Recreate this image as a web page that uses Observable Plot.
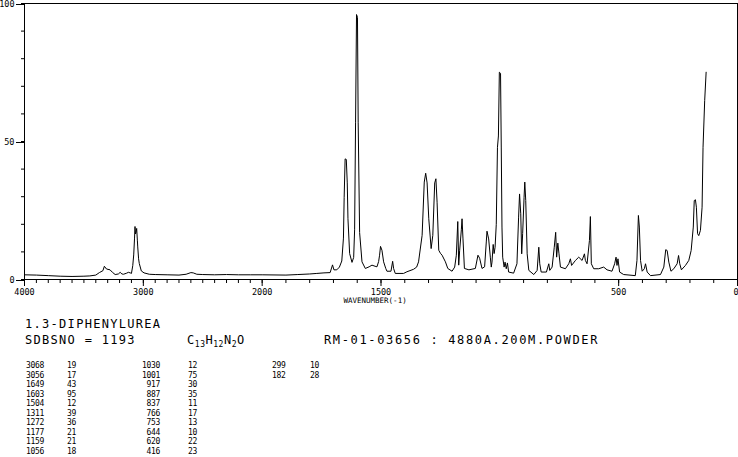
<!DOCTYPE html>
<html><head><meta charset="utf-8">
<script src="https://cdn.jsdelivr.net/npm/d3@7"></script>
<script src="https://cdn.jsdelivr.net/npm/@observablehq/plot@0.6"></script>
<style>
html,body{margin:0;padding:0;background:#fff}
body{width:738px;height:457px;overflow:hidden;position:relative;font-family:"DejaVu Sans Mono",monospace;color:#000}
#chart{position:absolute;left:0;top:0}
.t{position:absolute;white-space:pre;font-size:12px;line-height:12px;letter-spacing:1.3px}
.tbl{position:absolute;font-size:8px;line-height:9.5px;letter-spacing:-0.3px;white-space:pre}
.r{text-align:right}
sub{font-size:8px;vertical-align:-3px;letter-spacing:0.5px}
</style></head><body>
<div id="chart"></div>
<div id="info"></div>
<script>
// Spectrum trace (wavenumber, cm-1) and relative intensity
const wavenumber = [4000,3900,3800,3700,3600,3500,3450,3400,3370,3340,3328,3310,3280,3260,3237,3210,3195,3180,3167,3140,3126,3110,3100,3089,3081,3074,3070,3066,3062,3056,3050,3047,3040,3034,3017,2994,2950,2900,2800,2700,2640,2600,2580,2550,2500,2400,2300,2200,2100,2000,1900,1850,1800,1770,1740,1714,1704,1698,1686,1675,1665,1658,1655,1651,1646,1642,1639,1632,1622,1615,1611,1607,1603,1599,1596,1590,1580,1566,1550,1538,1525,1517,1510,1506,1502,1496,1489,1480,1475,1458,1451,1447,1440,1405,1391,1363,1350,1342,1327,1318,1312,1306,1299,1289,1282,1274,1269,1264,1257,1250,1243,1229,1219,1201,1190,1183,1177,1173,1169,1162,1159,1155,1149,1130,1103,1092,1085,1075,1064,1057,1054,1047,1040,1036,1033,1028,1024,1020,1015,1010,1006,1002,997,994,991,988,982,978,973,968,963,942,928,921,917,912,908,904,898,895,891,885,878,857,843,836,832,826,804,794,790,780,771,765,761,756,751,745,724,710,703,698,682,668,654,644,640,633,623,619,615,605,584,563,549,528,517,511,507,503,496,479,430,423,417,413,408,401,392,387,380,366,324,310,302,296,289,280,268,254,248,243,236,219,205,195,186,182,177,173,168,163,156,149,145,138,132];
const intensity = [1.7,1.6,1.4,1.2,1.1,1.2,1.3,1.6,2.5,3.2,4.8,3.8,3.5,2.6,1.8,2.0,2.6,2.0,1.9,2.3,2.6,2.4,2.2,5.0,8.9,15,19.2,16.5,17,18.5,14,11.8,7.5,5.8,3.1,2.4,1.9,1.8,1.7,1.6,1.9,2.5,2.4,1.9,1.8,1.7,1.8,1.7,1.7,1.7,1.6,1.8,2.0,2.2,2.4,2.5,5.3,3.5,3.5,4.5,6.7,15,29.8,43.7,43.5,35,22,9.4,6.2,8,18,57,96,95,57,17,6.4,4.0,4.6,5.2,4.8,4.6,6.5,8.8,12.0,10.6,6.4,4.0,3.0,3.0,6.6,4.0,2.2,2.2,2.8,3.7,4.5,6.4,16,35.3,38.5,35,22,11.2,16,35,36.5,28,10.6,9.5,8.8,6.4,4.0,3.0,4.5,8.8,21,5.2,10.6,18,22,14.7,4.0,3.5,4.0,8.8,7.7,4.0,4.6,13.6,17.5,14.7,8.1,4.5,6.3,12.7,9.4,11.7,20,47.9,52,75.1,74.7,48,19,8.1,4.5,6.3,3.9,6.0,2.7,2.3,5.7,22.6,31,23.8,9.3,16.6,29.8,35.3,28.6,9.3,3.3,1.8,3.3,11.7,5.7,2.7,2.7,5.7,3.3,4.5,11.7,17.1,8.1,13.2,9.3,4.5,3.9,5.7,7.5,5.1,6.9,8.1,6.9,9.3,6.9,5.7,14.1,22.8,5.7,3.9,3.9,4.5,3.5,3.0,5.7,8.1,5.1,7.5,2.7,1.8,1.4,6.9,23.2,19,6.9,3.0,3.9,5.7,2.7,1.4,1.8,4.5,10.8,10.5,6.3,3.0,3.9,5.7,8.7,5.7,3.5,5.1,6.9,10.5,19,28.6,28.9,26.2,16.6,15.9,17.8,26.2,47.9,64.9,75.1];

// Axis ticks
const xLabeledTicks = [4000,3000,2000,1500,500,0];
const xMinorTicks = d3.range(0,4001,100);
const yLabeledTicks = [0,50,100];
const yMinorTicks = d3.range(0,101,10);
const xTitle = "WAVENUMBER(-1)";

// Header texts
const compoundName = "1.3-DIPHENYLUREA";
const sdbsNo = "SDBSNO = 1193";
const formulaParts = [["C","13"],["H","12"],["N","2"],["O",""]];
const measurement = "RM-01-03656 : 4880A.200M.POWDER";

// Peak table
const peakWavenumbers = ["3068","3056","1649","1603","1504","1311","1272","1177","1159","1056","1030","1001","917","887","837","766","753","644","620","416","299","182"];
const peakIntensities = ["19","17","43","95","12","39","36","21","21","18","12","75","30","35","11","17","13","10","22","23","10","28"];

const data = wavenumber.map((w, i) => ({w, v: intensity[i]}));

// The x axis is compressed by half above 2000 cm-1 (as in the original plot)
const compress = w => (w > 2000 ? 2000 + (w - 2000) / 2 : w);
const frameH = 279 - 3;

const chart = Plot.plot({
  width: 738,
  height: 305,
  marginLeft: 24, marginRight: 1, marginTop: 3, marginBottom: 26,
  style: {fontFamily: "DejaVu Sans Mono, monospace", fontSize: "8.5px", background: "white", color: "black", overflow: "visible"},
  x: {transform: compress, domain: [3000, 0], range: [24, 737], axis: null},
  y: {domain: [0, 100], range: [279, 3]},
  marks: [
    Plot.frame({stroke: "black"}),
    // x ticks every 100 below the frame, longer at labelled values
    Plot.ruleX(xMinorTicks, {x: d => d, insetTop: frameH, insetBottom: -4, stroke: "black"}),
    Plot.ruleX(xLabeledTicks, {x: d => d, insetTop: frameH, insetBottom: -7, stroke: "black"}),
    Plot.text(xLabeledTicks.filter(d => d !== 0), {x: d => d, text: d => String(d), frameAnchor: "bottom", lineAnchor: "top", dy: 9, fontSize: 8.5, fill: "black"}),
    Plot.text(xLabeledTicks.filter(d => d === 0), {x: d => d, text: d => String(d), frameAnchor: "bottom", lineAnchor: "top", textAnchor: "end", dx: 1, dy: 9, fontSize: 8.5, fill: "black"}),
    Plot.axisY({ticks: yMinorTicks, tickSize: 3, tickFormat: () => "", label: null}),
    Plot.axisY({ticks: yLabeledTicks, tickSize: 8, tickPadding: 2, tickFormat: d => String(d), label: null, dy: 1}),
    Plot.text([xTitle], {x: () => 1525, frameAnchor: "bottom", lineAnchor: "top", dy: 18, text: d => d, fontSize: 7.5, fill: "black"}),
    Plot.line(data, {x: "w", y: "v", stroke: "black", strokeWidth: 1})
  ]
});
document.getElementById("chart").appendChild(chart);

// Text block below the chart
const info = document.getElementById("info");
function addText(cls, left, top, html, extra) {
  const el = document.createElement("div");
  el.className = cls;
  el.style.left = left + "px";
  el.style.top = top + "px";
  if (extra) Object.assign(el.style, extra);
  el.innerHTML = html;
  info.appendChild(el);
  return el;
}
addText("t", 25, 318, compoundName);
addText("t", 25, 334, sdbsNo);
addText("t", 187, 334, formulaParts.map(([a, n]) => a + (n ? "<sub>" + n + "</sub>" : "")).join(""), {letterSpacing: "0.6px"});
addText("t", 324, 334, measurement, {letterSpacing: "1.65px"});

const colsW = [26, 160, 272];
const colsI = [67, 188, 310];
for (let g = 0; g < 3; g++) {
  const ws = peakWavenumbers.slice(g * 10, g * 10 + 10);
  const is = peakIntensities.slice(g * 10, g * 10 + 10);
  if (!ws.length) continue;
  const wEl = document.createElement("div");
  wEl.className = "tbl" + (g === 1 ? " r" : "");
  wEl.style.top = "361px";
  if (g === 1) { wEl.style.right = (738 - colsW[g]) + "px"; } else { wEl.style.left = colsW[g] + "px"; }
  wEl.textContent = ws.join("\n");
  info.appendChild(wEl);
  const iEl = document.createElement("div");
  iEl.className = "tbl";
  iEl.style.top = "361px";
  iEl.style.left = colsI[g] + "px";
  iEl.textContent = is.join("\n");
  info.appendChild(iEl);
}
</script>
</body></html>
